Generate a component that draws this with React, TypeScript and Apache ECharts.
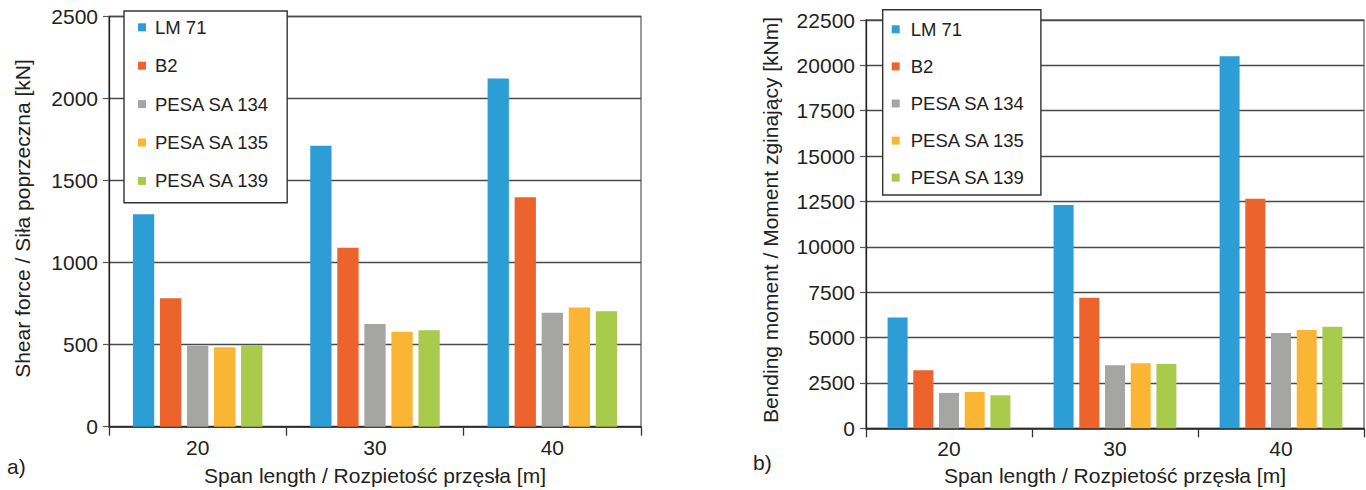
import React, { useEffect, useRef } from "react";
import * as echarts from "echarts";

const categories = ["20", "30", "40"];
const seriesNames = ["LM 71", "B2", "PESA SA 134", "PESA SA 135", "PESA SA 139"];
const seriesColors = ["#2C9ED5", "#EC632C", "#A5A5A4", "#FBB535", "#A8CB4C"];

const shearLM71 = [1295, 1713, 2122];
const shearB2 = [783, 1091, 1399];
const shearSA134 = [494, 626, 695];
const shearSA135 = [484, 579, 726];
const shearSA139 = [496, 588, 704];

const momentLM71 = [6100, 12300, 20500];
const momentB2 = [3200, 7200, 12650];
const momentSA134 = [1950, 3475, 5255];
const momentSA135 = [2000, 3585, 5420];
const momentSA139 = [1820, 3545, 5600];

const shearTicks = { min: 0, max: 2500, interval: 500 };
const momentTicks = { min: 0, max: 22500, interval: 2500 };

const FONT = "'Liberation Sans', Arial, Helvetica, sans-serif";
const TXT = "#222";

export default function App() {
  const ref = useRef<HTMLDivElement>(null);

  useEffect(() => {
    document.body.style.margin = "0";
    if (!ref.current) return;
    const chart = echarts.init(ref.current, undefined, { renderer: "svg" });

    const shear = [shearLM71, shearB2, shearSA134, shearSA135, shearSA139];
    const moment = [momentLM71, momentB2, momentSA134, momentSA135, momentSA139];

    const xAxisBase = (gridIndex: number) => ({
      type: "category",
      gridIndex,
      data: categories,
      axisLine: { show: true, lineStyle: { color: "#222", width: 1.5 } },
      axisTick: { show: true, length: 9, lineStyle: { color: "#333", width: 1.3 } },
      axisLabel: { fontSize: 21, color: TXT, fontFamily: FONT, margin: 10 },
      splitLine: { show: false },
    });

    const yAxisBase = (gridIndex: number, t: { min: number; max: number; interval: number }) => ({
      type: "value",
      gridIndex,
      min: t.min,
      max: t.max,
      interval: t.interval,
      axisLine: { show: true, lineStyle: { color: "#222", width: 1.3 } },
      axisTick: { show: true, length: 6, lineStyle: { color: "#555", width: 1.2 } },
      axisLabel: { fontSize: 21, color: TXT, fontFamily: FONT, margin: 11, formatter: (v: number) => String(v) },
      splitLine: { show: true, lineStyle: { color: "#4a4a4a", width: 1.3 } },
    });

    const legendBase = {
      orient: "vertical",
      icon: "rect",
      itemWidth: 8,
      itemHeight: 8,
      borderColor: "#333",
      borderWidth: 1.4,
      backgroundColor: "#fff",
      data: seriesNames,
      selectedMode: false,
    };

    const series: any[] = [];
    seriesNames.forEach((name, i) => {
      series.push({
        name,
        type: "bar",
        xAxisIndex: 0,
        yAxisIndex: 0,
        data: shear[i],
        barWidth: 21.3,
        barGap: "27%",
        itemStyle: { color: seriesColors[i] },
      });
    });
    seriesNames.forEach((name, i) => {
      series.push({
        name,
        type: "bar",
        xAxisIndex: 1,
        yAxisIndex: 1,
        data: moment[i],
        barWidth: 20,
        barGap: "28.5%",
        itemStyle: { color: seriesColors[i] },
      });
    });

    chart.setOption({
      animation: false,
      backgroundColor: "#fff",
      grid: [
        { left: 109, top: 16.5, width: 532, height: 410.2, show: true, borderColor: "#666", borderWidth: 1.3, backgroundColor: "transparent" },
        { left: 866, top: 20, width: 498, height: 408.3, show: true, borderColor: "#666", borderWidth: 1.3, backgroundColor: "transparent" },
      ],
      xAxis: [xAxisBase(0), xAxisBase(1)],
      yAxis: [yAxisBase(0, shearTicks), yAxisBase(1, momentTicks)],
      legend: [
        {
          ...legendBase,
          left: 124,
          top: 11,
          padding: [6.8, 17, 12.3, 14],
          itemGap: 19.4,
          textStyle: { fontSize: 18.5, lineHeight: 19, color: TXT, fontFamily: FONT, padding: [0, 0, 0, 4] },
        },
        {
          ...legendBase,
          left: 882.7,
          top: 9.7,
          padding: [10.1, 15, 7.8, 9],
          itemGap: 18.1,
          textStyle: { fontSize: 18.5, lineHeight: 19, color: TXT, fontFamily: FONT, padding: [0, 0, 0, 6] },
        },
      ],
      graphic: [
        {
          type: "text",
          x: 375,
          y: 475,
          style: { text: "Span length / Rozpietość przęsła [m]", fontSize: 21, fontFamily: FONT, fill: TXT, align: "center", verticalAlign: "middle" },
        },
        {
          type: "text",
          x: 1115,
          y: 475,
          style: { text: "Span length / Rozpietość przęsła [m]", fontSize: 21, fontFamily: FONT, fill: TXT, align: "center", verticalAlign: "middle" },
        },
        {
          type: "text",
          x: 22.5,
          y: 218.5,
          rotation: Math.PI / 2,
          style: { text: "Shear force / Siła poprzeczna [kN]", fontSize: 21, fontFamily: FONT, fill: TXT, align: "center", verticalAlign: "middle" },
        },
        {
          type: "text",
          x: 770,
          y: 220,
          rotation: Math.PI / 2,
          style: { text: "Bending moment / Moment zginający [kNm]", fontSize: 21, fontFamily: FONT, fill: TXT, align: "center", verticalAlign: "middle" },
        },
        {
          type: "text",
          x: 7,
          y: 466,
          style: { text: "a)", fontSize: 21, fontFamily: FONT, fill: TXT, align: "left", verticalAlign: "middle" },
        },
        {
          type: "text",
          x: 753,
          y: 462,
          style: { text: "b)", fontSize: 21, fontFamily: FONT, fill: TXT, align: "left", verticalAlign: "middle" },
        },
      ],
      series,
    });

    return () => {
      chart.dispose();
    };
  }, []);

  return <div ref={ref} style={{ width: 1366, height: 490 }} />;
}
